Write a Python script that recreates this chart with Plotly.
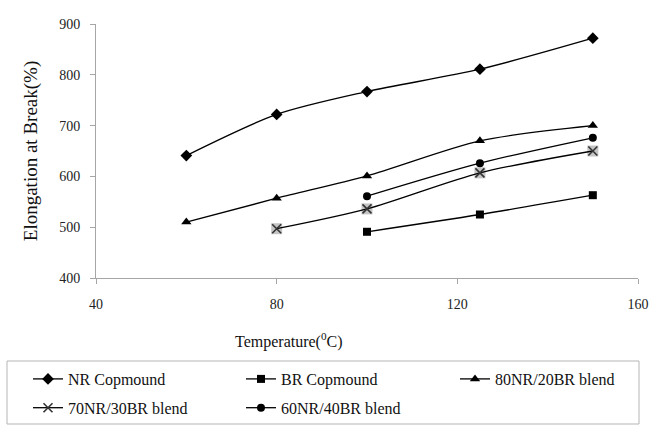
import plotly.graph_objects as go

# Temperature (°C) and elongation at break (%) for each compound / blend
nr_temp = [60, 80, 100, 125, 150]
nr_elong = [641, 722, 767, 811, 872]

br_temp = [100, 125, 150]
br_elong = [491, 525, 563]

b80_temp = [60, 80, 100, 125, 150]
b80_elong = [510, 557, 601, 670, 700]

b70_temp = [80, 100, 125, 150]
b70_elong = [497, 536, 607, 650]

b60_temp = [100, 125, 150]
b60_elong = [561, 626, 676]

series_names = ["NR Copmound", "BR Copmound", "80NR/20BR blend",
                "70NR/30BR blend", "60NR/40BR blend"]

FONT = "Liberation Serif"
LINE = dict(color="black", width=1.3, shape="spline", smoothing=0.8)

fig = go.Figure()

# grey square backing for the 70/30 crosses (drawn below, no legend entry)
fig.add_trace(go.Scatter(
    x=b70_temp, y=b70_elong, mode="markers", showlegend=False, hoverinfo="skip",
    marker=dict(symbol="square", size=11, color="#c4c4c4", line=dict(width=0)),
))

# legend is laid out as three columns: (NR, 70/30), (BR, 60/40), (80/20)
fig.add_trace(go.Scatter(x=nr_temp, y=nr_elong, name=series_names[0],
                         mode="lines+markers", line=LINE, legend="legend",
                         legendgroup="a",
                         marker=dict(symbol="diamond", size=9, color="black")))
fig.add_trace(go.Scatter(x=br_temp, y=br_elong, name=series_names[1],
                         mode="lines+markers", line=LINE, legend="legend2",
                         legendgroup="b",
                         marker=dict(symbol="square", size=8, color="black")))
fig.add_trace(go.Scatter(x=b80_temp, y=b80_elong, name=series_names[2],
                         mode="lines+markers", line=LINE, legend="legend3",
                         legendgroup="c",
                         marker=dict(symbol="triangle-up", size=9, color="black")))
fig.add_trace(go.Scatter(x=b70_temp, y=b70_elong, name=series_names[3],
                         mode="lines+markers", line=LINE, legend="legend",
                         legendgroup="d",
                         marker=dict(symbol="x-thin-open", size=9, color="#333333",
                                     line=dict(width=1.6, color="#333333"))))
fig.add_trace(go.Scatter(x=b60_temp, y=b60_elong, name=series_names[4],
                         mode="lines+markers", line=LINE, legend="legend2",
                         legendgroup="e",
                         marker=dict(symbol="circle", size=8, color="black")))

axis_common = dict(
    showgrid=False, zeroline=False, showline=True, linecolor="#a6a6a6", linewidth=1,
    ticks="outside", ticklen=5, tickcolor="#a6a6a6", tickwidth=1,
    tickfont=dict(family=FONT, size=14, color="#222222"),
)

fig.update_xaxes(range=[40, 160], tick0=40, dtick=40, ticklabelstandoff=8, **axis_common)
fig.update_yaxes(range=[400, 900], tick0=400, dtick=100, ticklabelstandoff=7,
                 title=dict(text="Elongation at Break(%)",
                            font=dict(family=FONT, size=19, color="#111111"),
                            standoff=16),
                 **axis_common)

fig.add_annotation(
    text="Temperature(<sup>0</sup>C)", xref="paper", yref="paper",
    x=(289 - 96) / 542, y=(278 - 340) / 254, xanchor="center", yanchor="middle",
    showarrow=False, font=dict(family=FONT, size=16, color="#111111"),
)

# legend frame
fig.add_shape(type="rect", xref="paper", yref="paper",
              x0=(7 - 96) / 542, x1=(639 - 96) / 542,
              y0=(278 - 361) / 254, y1=(278 - 424) / 254,
              line=dict(color="#b5b5b5", width=1), fillcolor="rgba(0,0,0,0)")


def legend_column(x_px):
    return dict(
        orientation="v", x=(x_px - 96) / 542, xanchor="left",
        y=(278 - 362) / 254, yanchor="top",
        font=dict(family=FONT, size=16, color="#111111"),
        bgcolor="rgba(0,0,0,0)", borderwidth=0,
        tracegroupgap=5, traceorder="grouped",
    )


fig.update_layout(
    width=650, height=425,
    margin=dict(l=96, r=12, t=24, b=147, autoexpand=False),
    plot_bgcolor="white", paper_bgcolor="white",
    font=dict(family=FONT, color="#111111"),
    showlegend=True,
    legend=legend_column(28),
    legend2=legend_column(241),
    legend3=legend_column(455),
)

fig.write_html("out.html")
